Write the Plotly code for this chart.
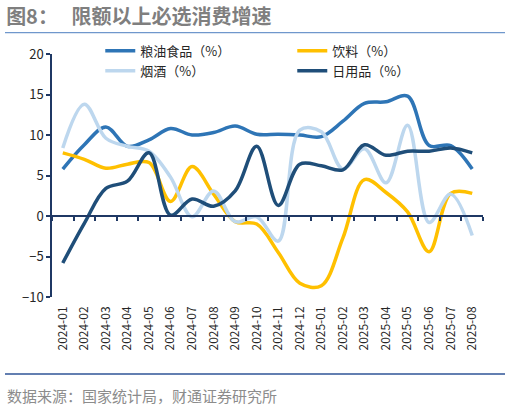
import plotly.graph_objects as go

months = ['2024-01', '2024-02', '2024-03', '2024-04', '2024-05', '2024-06', '2024-07',
          '2024-08', '2024-09', '2024-10', '2024-11', '2024-12', '2025-01', '2025-02',
          '2025-03', '2025-04', '2025-05', '2025-06', '2025-07', '2025-08']

grain_oil = [5.8, 8.8, 11.0, 8.6, 9.4, 10.8, 10.0, 10.3, 11.1, 10.1,
             10.1, 10.0, 9.8, 11.7, 13.9, 14.1, 14.8, 8.7, 8.7, 5.8]
beverage = [7.8, 7.0, 5.9, 6.4, 6.6, 1.8, 6.1, 2.7, -0.7, -1.0,
            -4.5, -8.3, -8.6, -2.7, 4.5, 2.9, 0.5, -4.4, 2.8, 2.8]
tobacco_liquor = [8.4, 13.8, 9.6, 8.6, 8.0, 4.8, -0.1, 3.1, -0.7, -0.1,
                  -3.1, 10.6, 10.4, 5.8, 8.3, 4.1, 11.2, -0.8, 2.7, -2.4]
daily_use = [-5.8, -0.9, 3.4, 4.3, 7.8, 0.1, 2.1, 1.2, 3.1, 8.6,
             1.3, 6.4, 6.2, 5.7, 8.8, 7.5, 8.0, 8.0, 8.4, 7.8]

series = [
    ('粮油食品（%）', grain_oil, '#2E75B6'),
    ('饮料（%）', beverage, '#FFC000'),
    ('烟酒（%）', tobacco_liquor, '#BDD7EE'),
    ('日用品（%）', daily_use, '#1F4E79'),
]

FONT = 'Noto Sans CJK SC'
x_idx = list(range(len(months)))

fig = go.Figure()

for name, vals, color in series:
    fig.add_trace(go.Scatter(
        x=x_idx, y=vals, name=name, mode='lines',
        line=dict(color=color, width=3.5, shape='spline', smoothing=1.0),
        hoverinfo='skip'
    ))

fig.update_layout(
    width=511, height=408,
    margin=dict(l=52, r=28, t=54, b=111, autoexpand=False),
    paper_bgcolor='white', plot_bgcolor='white',
    font=dict(family=FONT, size=13, color='#262626'),
    title=dict(
        text='<b>图8：\u00a0\u00a0 限额以上必选消费增速</b>',
        x=0.012, xanchor='left', y=0.975, yanchor='top',
        font=dict(family=FONT, size=20, color='#7F7F7F')
    ),
    legend=dict(
        orientation='h', x=0.112, xanchor='left', y=1.075, yanchor='top',
        entrywidth=147, entrywidthmode='pixels', tracegroupgap=0,
        font=dict(family=FONT, size=13, color='#262626'),
        bgcolor='rgba(0,0,0,0)', itemwidth=30
    ),
    showlegend=True,
)

# bottom axis: labels only
fig.update_xaxes(
    range=[-0.5, len(months) - 0.5],
    tickmode='array', tickvals=x_idx, ticktext=months,
    tickangle=-90, ticks='', showline=False, showgrid=False, zeroline=False,
    tickfont=dict(size=12, color='#262626'), ticklabelstandoff=6
)

fig.update_yaxes(
    range=[-10, 20], dtick=5, showgrid=False,
    showline=True, linecolor='#1F3864', linewidth=1.5,
    ticks='outside', ticklen=4, tickcolor='#1F3864', tickwidth=1.5,
    zeroline=False, tickfont=dict(size=13, color='#262626')
)

# axis line at zero with ticks between months
fig.update_layout(xaxis2=dict(
    overlaying='x', anchor='free', position=1 / 3, side='bottom',
    range=[-0.5, len(months) - 0.5], tickmode='linear', tick0=-0.5, dtick=1,
    showticklabels=False, ticks='outside', ticklen=4, tickcolor='#1F3864', tickwidth=1.5,
    showline=True, linecolor='#1F3864', linewidth=1.5, showgrid=False, zeroline=False
))
fig.add_trace(go.Scatter(x=[None], y=[None], xaxis='x2', showlegend=False, hoverinfo='skip'))

# rules above the chart and below the axis labels
fig.add_shape(type='line', xref='paper', yref='paper',
              x0=-47 / 431, x1=453 / 431, y0=(297.3 - 32.5) / 243.3, y1=(297.3 - 32.5) / 243.3,
              line=dict(color='#6F97CC', width=1.2))
fig.add_shape(type='line', xref='paper', yref='paper',
              x0=-47 / 431, x1=453 / 431, y0=(297.3 - 374.5) / 243.3, y1=(297.3 - 374.5) / 243.3,
              line=dict(color='#2F5597', width=1.5))

fig.add_annotation(
    text='数据来源：国家统计局，财通证券研究所',
    xref='paper', yref='paper', x=-47 / 431, y=(297.3 - 396) / 243.3,
    xanchor='left', yanchor='middle', showarrow=False,
    font=dict(family=FONT, size=15, color='#8C8C8C')
)

# page body has a default 8px margin; drop it so the figure fills the window
fig.write_html('out.html', config={'displayModeBar': False},
               post_script="document.body.style.margin='0';")
